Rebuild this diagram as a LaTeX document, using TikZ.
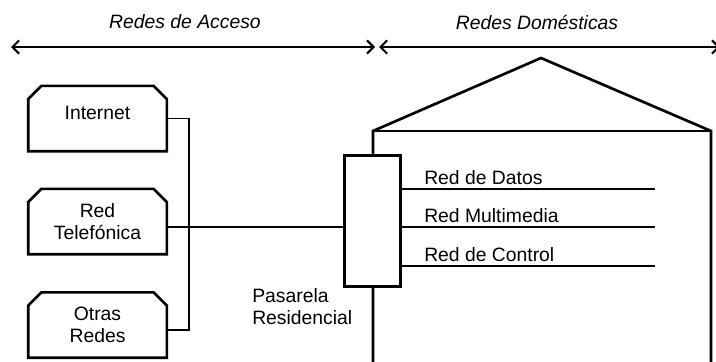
\documentclass[tikz,border=0pt]{standalone}
\usepackage{fontspec}
\setmainfont{Liberation Sans}
\usetikzlibrary{arrows.meta,shapes.misc}

\tikzset{
  every node/.style={font=\fontsize{14.5pt}{17pt}\selectfont},
  netbox/.style={chamfered rectangle, chamfered rectangle corners={north west,north east},
    chamfered rectangle xsep=5pt, chamfered rectangle ysep=5pt, draw, line width=2pt,
    minimum width=104pt, minimum height=49pt, align=center, inner sep=0pt},
  gwbox/.style={draw, fill=white, line width=2pt, minimum width=42pt, minimum height=98pt, inner sep=0pt},
  wire/.style={line width=1.3pt},
  wall/.style={line width=2pt},
  span/.style={line width=1.5pt, {Straight Barb[length=5pt,width=10pt]}-{Straight Barb[length=5pt,width=10pt]}},
  title/.style={font=\fontsize{14.5pt}{17pt}\selectfont\itshape}
}

\begin{document}
\begin{tikzpicture}[x=0.75pt,y=-0.75pt]
    \useasboundingbox (0,0) rectangle (716,361);
    % encabezados
    \node (acc) at (185,22) [title] {Redes de Acceso};
    \node (dom) at (537,22) [title] {Redes Domésticas};
    \coordinate (aL) at (11,47);
    \coordinate (aM1) at (375,47);
    \coordinate (aM2) at (379,47);
    \coordinate (aR) at (720,47);
    \draw[span] (aL) -- (aM1);
    \draw[span] (aM2) -- (aR);
    % casa
    \draw[wall] (373,365) -- (373,131) -- (541,58) -- (711,131) -- (711,365);
    \draw[wall] (373,131) -- (711,131);
    % redes de acceso
    \node (inet) at (97.5,118.5) [netbox] {Internet\\[-8pt]\mbox{}};
    \node (tel) at (97.5,221.5) [netbox] {Red\\Telefónica};
    \node (otras) at (97.5,325) [netbox] {Otras\\Redes};
    \coordinate (bus) at (189,227);
    \draw[wire] (inet.east) -| (bus) |- ([yshift=-3.5pt]otras.east);
    % pasarela
    \node (gw) at (372.5,221) [gwbox] {};
    \draw[wire] ([yshift=-4pt]tel.east) -- ([yshift=-4pt]tel.east -| gw.west);
    \node (gwlbl) at (252,288) [anchor=north west, inner sep=0pt, align=left] {Pasarela\\Residencial};
    % redes domesticas
    \foreach \name/\y/\txt in {datos/189/Red de Datos, multi/227/Red Multimedia, ctrl/266/Red de Control} {
      \coordinate (\name) at (655,\y);
      \draw[wire] (gw.east |- \name) -- (\name);
      \node (\name lbl) at (424,{\y-5}) [anchor=base west, inner sep=0pt] {\txt};
    }
\end{tikzpicture}
\end{document}
